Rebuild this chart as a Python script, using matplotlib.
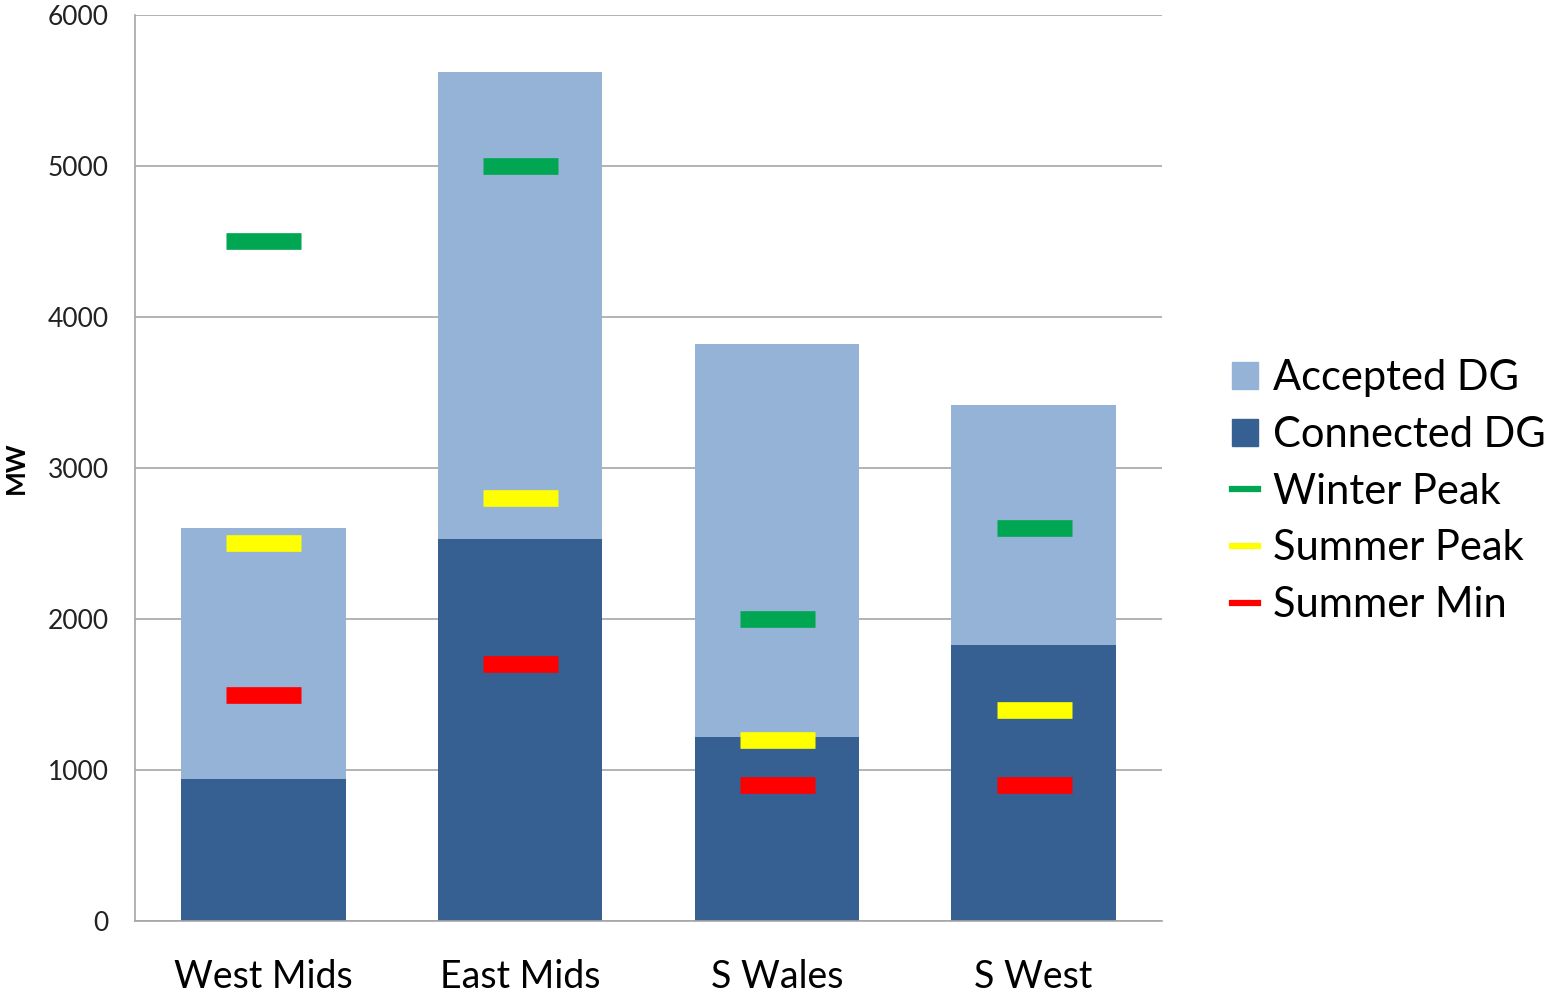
import matplotlib.pyplot as plt
from matplotlib.patches import Patch
from matplotlib.lines import Line2D
import numpy as np

# values (MW)
regions = ['West Mids', 'East Mids', 'S Wales', 'S West']
connected_dg = [940, 2530, 1220, 1830]
accepted_dg = [1660, 3090, 2600, 1590]   # stacked on top of connected
winter_peak = [4500, 5000, 2000, 2600]
summer_peak = [2500, 2800, 1200, 1400]
summer_min = [1500, 1700, 900, 900]

c_acc = '#95B3D7'
c_con = '#376092'
c_win = '#00A651'
c_spk = '#FFFF00'
c_min = '#FF0000'

plt.rcParams['font.family'] = ['Lato', 'DejaVu Sans']

fig = plt.figure(figsize=(15.59, 9.97), dpi=100)
ax = fig.add_axes([0.0866, 0.0762, 0.6587, 0.9088])

x = np.arange(len(regions))
ax.bar(x, connected_dg, width=0.64, color=c_con, zorder=2)
ax.bar(x, accepted_dg, width=0.64, bottom=connected_dg, color=c_acc, zorder=2)

mk = dict(linestyle='none', marker='_', markersize=54, markeredgewidth=12, zorder=3)
ax.plot(x, winter_peak, color=c_win, markeredgecolor=c_win, **mk)
ax.plot(x, summer_peak, color=c_spk, markeredgecolor=c_spk, **mk)
ax.plot(x, summer_min, color=c_min, markeredgecolor=c_min, **mk)

ax.set_xlim(-0.5, 3.5)
ax.set_ylim(0, 6000)
ax.set_yticks(range(0, 6001, 1000))
ax.set_xticks(x)
ax.set_xticklabels(regions, fontsize=27)
ax.tick_params(axis='y', length=0, pad=19, labelsize=19, labelcolor='#222222')
ax.tick_params(axis='x', length=0, pad=27)
ax.yaxis.grid(True, color='#A6A6A6', linewidth=1.2, zorder=0)
ax.set_axisbelow(True)
for s in ['top', 'right']:
    ax.spines[s].set_visible(False)
for s in ['left', 'bottom']:
    ax.spines[s].set_color('#A6A6A6')
    ax.spines[s].set_linewidth(1.2)

ax.set_ylabel('MW', fontsize=19, fontweight='bold')
ax.yaxis.set_label_coords(-0.104, 0.5)

handles = [
    Patch(color=c_acc, label='Accepted DG'),
    Patch(color=c_con, label='Connected DG'),
    Line2D([], [], color=c_win, lw=4.5, label='Winter Peak'),
    Line2D([], [], color=c_spk, lw=4.5, label='Summer Peak'),
    Line2D([], [], color=c_min, lw=4.5, label='Summer Min'),
]
fig.legend(handles=handles, loc='center left', bbox_to_anchor=(0.777, 0.507),
           fontsize=30, frameon=False, handlelength=0.62, handleheight=0.62,
           handletextpad=0.35, labelspacing=0.45, borderpad=0)

fig.savefig('out.png', dpi=100)
